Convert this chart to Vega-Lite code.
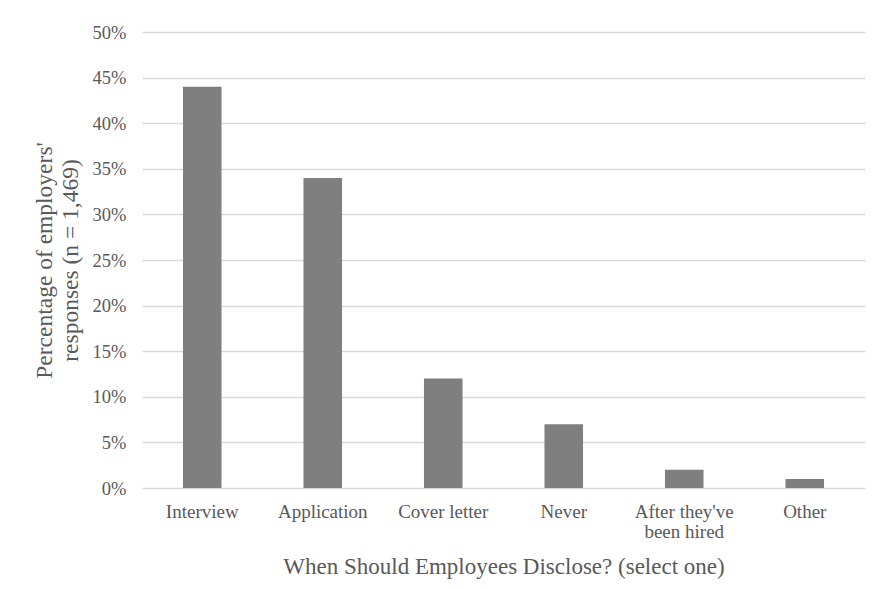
{
  "$schema": "https://vega.github.io/schema/vega-lite/v6.json",
  "width": 723,
  "height": 456,
  "autosize": "none",
  "padding": {"left": 142, "top": 32, "right": 19, "bottom": 101},
  "background": "white",
  "data": {
    "values": [
      {"when": "Interview", "pct": 0.44},
      {"when": "Application", "pct": 0.34},
      {"when": "Cover letter", "pct": 0.12},
      {"when": "Never", "pct": 0.07},
      {"when": "After they've been hired", "pct": 0.02},
      {"when": "Other", "pct": 0.01}
    ]
  },
  "mark": {"type": "bar", "color": "#7f7f7f"},
  "encoding": {
    "x": {
      "field": "when",
      "type": "nominal",
      "sort": null,
      "scale": {"paddingInner": 0.68, "paddingOuter": 0.34},
      "axis": {
        "title": "When Should Employees Disclose? (select one)",
        "labelAngle": 0,
        "labelExpr": "datum.value == \"After they've been hired\" ? [\"After they've\", 'been hired'] : datum.value",
        "labelLineHeight": 20,
        "labelPadding": 14,
        "labelFontSize": 19,
        "ticks": false,
        "domain": false,
        "titlePadding": 14
      }
    },
    "y": {
      "field": "pct",
      "type": "quantitative",
      "scale": {"domain": [0, 0.5]},
      "axis": {
        "title": ["Percentage of employers'", "responses (n = 1,469)"],
        "format": ".0%",
        "values": [0, 0.05, 0.1, 0.15, 0.2, 0.25, 0.3, 0.35, 0.4, 0.45, 0.5],
        "ticks": false,
        "domain": false,
        "labelPadding": 16,
        "labelFontSize": 18.5,
        "titlePadding": 10,
        "titleFontSize": 23.5,
        "titleLineHeight": 26
      }
    }
  },
  "config": {
    "font": "'Liberation Serif', 'Times New Roman', Times, serif",
    "view": {"stroke": null},
    "axis": {
      "labelFont": "'Liberation Serif', 'Times New Roman', Times, serif",
      "titleFont": "'Liberation Serif', 'Times New Roman', Times, serif",
      "titleFontSize": 23,
      "titleFontWeight": "normal",
      "labelColor": "#595959",
      "titleColor": "#595959",
      "gridColor": "#d9d9d9",
      "gridWidth": 1.3
    },
    "axisX": {"grid": false}
  }
}
